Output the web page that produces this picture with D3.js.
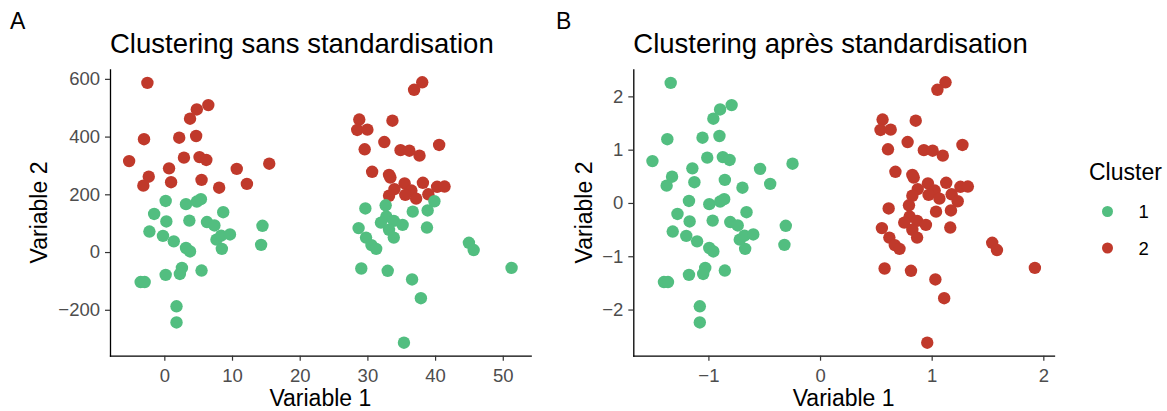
<!DOCTYPE html>
<html><head><meta charset="utf-8">
<script src="https://cdn.jsdelivr.net/npm/d3@7"></script>
<style>
body{margin:0;background:#fff;}
svg{display:block;font-family:"Liberation Sans",Arial,Helvetica,sans-serif;}
</style>
</head><body>
<svg id="chart" width="1167" height="411"></svg>
<script>
// ---- data ----
const var1 = [
  -2.5,6.5,4.8,3.8,-3.0,2.2,4.7,-5.2,2.9,5.2,6.2,0.7,10.7,15.5,-2.3,-3.1,1.0,5.5,8.1,12.2,
  0.2,-1.5,0.3,-2.2,-0.2,1.4,3.2,4.8,5.4,3.7,6.3,7.4,8.7,7.7,8.4,9.7,8.5,3.2,3.8,14.5,14.3,-3.5,-2.9,0.2,2.6,2.3,5.5,1.8,1.8,
  38.1,36.9,28.8,28.5,30.0,33.7,32.5,29.6,34.9,36.2,37.7,40.6,30.7,33.2,33.4,35.5,38.2,34.0,36.5,35.6,33.2,37.2,39.0,40.3,41.4,
  39.9,29.7,32.7,36.7,38.9,32.8,32.0,33.9,35.2,33.2,33.9,28.7,29.8,30.6,31.3,38.8,45.0,45.7,51.3,29.1,33.0,36.6,37.9,35.4
];
const var2 = [
  586,509,494,462,391,396,402,315,327,329,319,290,288,306,261,230,242,250,223,236,
  177,132,106,71,56,37,166,175,183,109,104,92,138,43,57,61,11,14,2,91,25,-104,-104,-79,-55,-76,-64,-188,-244,
  588,562,459,423,424,455,381,356,353,351,334,371,278,267,258,238,240,218,213,198,195,185,200,226,227,
  176,151,162,140,144,123,102,108,94,77,50,83,50,24,11,85,32,7,-55,-57,-65,-95,-160,-314
];
const clusterRaw = [
  2,2,2,2,2,2,2,2,2,2,2,2,2,2,2,2,2,2,2,2,
  1,1,1,1,1,1,1,1,1,1,1,1,1,1,1,1,1,1,1,1,1,1,1,1,1,1,1,1,1,
  2,2,2,2,2,2,2,2,2,2,2,2,2,2,2,2,2,2,2,2,2,2,2,2,2,
  1,1,1,1,1,1,1,1,1,1,1,1,1,1,1,1,1,1,1,1,1,1,1,1
];
const clusterStd = [
  1,1,1,1,1,1,1,1,1,1,1,1,1,1,1,1,1,1,1,1,
  1,1,1,1,1,1,1,1,1,1,1,1,1,1,1,1,1,1,1,1,1,1,1,1,1,1,1,1,1,
  2,2,2,2,2,2,2,2,2,2,2,2,2,2,2,2,2,2,2,2,2,2,2,2,2,
  2,2,2,2,2,2,2,2,2,2,2,2,2,2,2,2,2,2,2,2,2,2,2,2
];
const clusterLevels = [1, 2];
const clusterColors = ["#52BE80", "#C0392B"];
const panelTitles = ["Clustering sans standardisation", "Clustering après standardisation"];
const panelTags = ["A", "B"];
const xTicksRaw = [0, 10, 20, 30, 40, 50];
const yTicksRaw = [-200, 0, 200, 400, 600];
const xTicksStd = [-1, 0, 1, 2];
const yTicksStd = [-2, -1, 0, 1, 2];
const xLabel = "Variable 1", yLabel = "Variable 2", legendTitle = "Cluster";

// ---- standardised copy ----
const m1 = d3.mean(var1), s1 = d3.deviation(var1);
const m2 = d3.mean(var2), s2 = d3.deviation(var2);
const var1s = var1.map(v => (v - m1) / s1);
const var2s = var2.map(v => (v - m2) / s2);

const color = d3.scaleOrdinal().domain(clusterLevels).range(clusterColors);
function expand(arr) { const e = d3.extent(arr), p = (e[1] - e[0]) * 0.05; return [e[0] - p, e[1] + p]; }
const fmt = d3.format("~g");

const svg = d3.select("#chart");
svg.append("rect").attr("width", 1167).attr("height", 411).attr("fill", "#fff");

const panels = [
  { xs: var1, ys: var2, cl: clusterRaw, xt: xTicksRaw, yt: yTicksRaw, left: 110, right: 530.7, tagX: 10, ylabX: 46.5 },
  { xs: var1s, ys: var2s, cl: clusterStd, xt: xTicksStd, yt: yTicksStd, left: 633.3, right: 1054, tagX: 556, ylabX: 591.5 }
];
const panelTop = 69.3, panelBottom = 355.7;

panels.forEach((p, i) => {
  const x = d3.scaleLinear().domain(expand(p.xs)).range([p.left, p.right]);
  const y = d3.scaleLinear().domain(expand(p.ys)).range([panelBottom, panelTop]);
  const g = svg.append("g");

  // points
  g.append("g").selectAll("circle").data(p.xs.map((v, k) => k)).join("circle")
    .attr("cx", k => x(p.xs[k])).attr("cy", k => y(p.ys[k])).attr("r", 6.2)
    .attr("fill", k => color(p.cl[k]));

  // axes
  const ax = g.append("g").attr("transform", `translate(0,${panelBottom})`)
    .call(d3.axisBottom(x).tickValues(p.xt).tickFormat(fmt).tickSize(5).tickSizeOuter(0).tickPadding(8));
  const ay = g.append("g").attr("transform", `translate(${p.left},0)`)
    .call(d3.axisLeft(y).tickValues(p.yt).tickFormat(fmt).tickSize(5).tickSizeOuter(0).tickPadding(5));
  [ax, ay].forEach(a => {
    a.select(".domain").attr("stroke", "#000").attr("stroke-width", 1.3).attr("stroke-linecap", "square");
    a.selectAll(".tick line").attr("stroke", "#333").attr("stroke-width", 1.2);
    a.selectAll(".tick text").attr("fill", "#4D4D4D").style("font-size", "18.5px")
      .style("font-family", '"Liberation Sans",Arial,sans-serif');
  });

  // axis titles
  g.append("text").attr("x", (p.left + p.right) / 2).attr("y", 406).attr("text-anchor", "middle")
    .style("font-size", "23px").attr("fill", "#000").text(xLabel);
  g.append("text").attr("transform", `translate(${p.ylabX},${(panelTop + panelBottom) / 2}) rotate(-90)`)
    .attr("text-anchor", "middle").style("font-size", "23px").attr("fill", "#000").text(yLabel);

  // title and tag
  g.append("text").attr("x", p.left).attr("y", 53).style("font-size", "27.5px").attr("fill", "#000").text(panelTitles[i]);
  g.append("text").attr("x", p.tagX).attr("y", 29).style("font-size", "23px").attr("fill", "#000").text(panelTags[i]);
});

// legend
const lg = svg.append("g");
lg.append("text").attr("x", 1089).attr("y", 179.5).style("font-size", "23px").attr("fill", "#000").text(legendTitle);
clusterLevels.forEach((c, i) => {
  const cy = 211.5 + i * 36.5;
  lg.append("circle").attr("cx", 1107.5).attr("cy", cy).attr("r", 5.5).attr("fill", color(c));
  lg.append("text").attr("x", 1138.5).attr("y", cy + 6.6).style("font-size", "18.5px").attr("fill", "#000").text(c);
});
</script>
</body></html>
